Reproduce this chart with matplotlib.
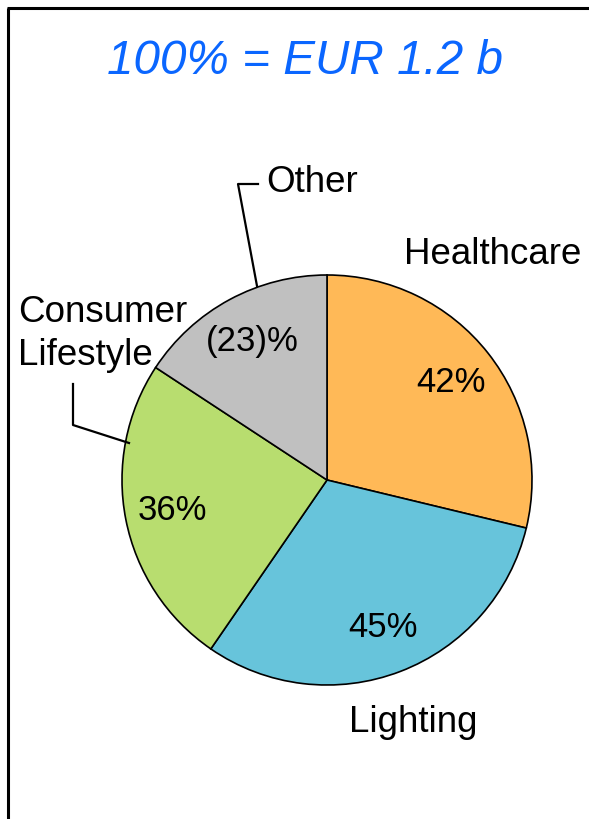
import matplotlib
matplotlib.use("Agg")
import matplotlib.pyplot as plt

# segment data (Other is negative, drawn by its size)
segments = ["Healthcare", "Lighting", "Consumer\nLifestyle", "Other"]
shares = [42, 45, 36, -23]
pct_labels = ["42%", "45%", "36%", "(23)%"]
colors = ["#FFB957", "#67C4DB", "#B8DD6F", "#C0C0C0"]
title = "100% = EUR 1.2 b"

plt.rcParams['font.family'] = ['Liberation Sans', 'DejaVu Sans']

W, H = 589, 819
fig = plt.figure(figsize=(W / 100, H / 100), dpi=100)
ax = fig.add_axes([0, 0, 1, 1])
ax.set_xlim(0, W)
ax.set_ylim(0, H)
ax.set_aspect('equal')
ax.axis('off')

def py(y):
    # image y (top-down) -> axes y
    return H - y

# frame: left and top edges only
ax.plot([8, 8], [py(8), py(819)], color='black', lw=2.2, solid_capstyle='butt')
ax.plot([7, 589], [py(8), py(8)], color='black', lw=2.2, solid_capstyle='butt')

sizes = [abs(v) for v in shares]
wedges, texts = ax.pie(sizes, labels=pct_labels, colors=colors, startangle=90,
                       counterclock=False, center=(327, py(480)), radius=205,
                       labeldistance=0.77, frame=True,
                       wedgeprops=dict(edgecolor='black', linewidth=1.2),
                       textprops=dict(fontsize=25, color='black', ha='center', va='center'))
ax.set_xlim(0, W)
ax.set_ylim(0, H)
ax.axis('off')

ax.text(305, py(62), title, fontsize=34.3, style='italic', color='#0A66FF',
        ha='center', va='center')

lab = dict(fontsize=26.5, color='black')
ax.text(404, py(255), segments[0], ha='left', va='center', **lab)
ax.text(349, py(722), segments[1], ha='left', va='center', **lab)
ax.text(18, py(334), segments[2], ha='left', va='center', linespacing=1.32, **lab)
ax.text(266, py(182), segments[3], ha='left', va='center', **lab)

# leader lines
ax.plot([258, 238, 257], [py(184), py(184), py(286)], color='black', lw=1.6)
ax.plot([73, 73, 129], [py(384), py(425), py(443)], color='black', lw=1.6)

fig.savefig("out.png", dpi=100)
